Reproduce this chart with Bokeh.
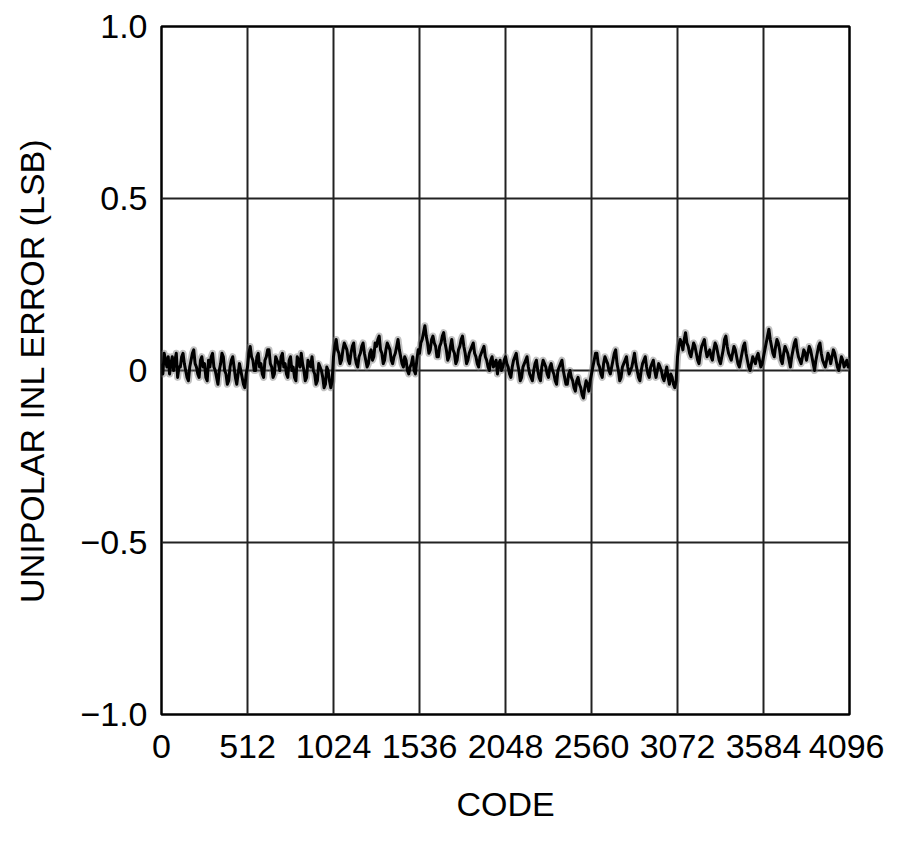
from bokeh.plotting import figure
from bokeh.models import Range1d, FixedTicker
from bokeh.embed import file_html
from bokeh.resources import INLINE

# ---- data ----
# readings every 16 codes (0 ... 4096)
seg_0_512 = [0.02, 0.05, 0.01, -0.01, 0.04, 0.03, -0.02, 0.01, 0.05, 0.00, -0.03, 0.03, 0.06, 0.01, -0.02, 0.04,
             0.02, -0.03, 0.01, 0.05, 0.00, -0.04, 0.02, 0.04, -0.01, -0.03, 0.03, 0.01, -0.04, 0.02, -0.02, -0.05]
seg_512_1024 = [0.01, 0.07, 0.03, 0.00, 0.05, 0.02, -0.02, 0.04, 0.06, 0.01, -0.01, 0.03, 0.00, 0.05, 0.02, -0.02,
                0.04, 0.01, -0.03, 0.03, 0.05, 0.00, -0.02, 0.02, 0.04, -0.01, -0.03, 0.01, -0.02, -0.04, 0.00, -0.05]
seg_1024_1536 = [0.04, 0.09, 0.05, 0.03, 0.08, 0.06, 0.02, 0.07, 0.04, 0.01, 0.05, 0.08, 0.03, 0.02, 0.06, 0.04,
                 0.07, 0.10, 0.05, 0.03, 0.08, 0.06, 0.02, 0.05, 0.09, 0.04, 0.01, 0.03, -0.01, 0.02, 0.00, 0.03]
seg_1536_2048 = [0.05, 0.09, 0.13, 0.08, 0.06, 0.10, 0.07, 0.04, 0.08, 0.11, 0.06, 0.04, 0.09, 0.05, 0.03, 0.07,
                 0.10, 0.05, 0.03, 0.06, 0.08, 0.04, 0.01, 0.05, 0.07, 0.03, 0.00, 0.04, 0.02, -0.01, 0.03, 0.01]
seg_2048_2560 = [0.04, 0.01, -0.02, 0.03, 0.05, 0.00, -0.02, 0.02, 0.04, -0.01, -0.03, 0.02, 0.00, -0.03, 0.03, 0.01,
                 -0.02, 0.02, -0.01, -0.04, 0.01, 0.03, -0.02, -0.04, 0.00, -0.03, -0.06, -0.02, -0.05, -0.08, -0.03, -0.06]
seg_2560_3072 = [-0.01, 0.03, 0.05, 0.01, -0.02, 0.04, 0.02, -0.01, 0.03, 0.06, 0.00, -0.02, 0.02, 0.04, -0.01, 0.01,
                 0.05, 0.00, -0.03, 0.02, 0.04, -0.01, 0.01, 0.03, -0.02, 0.02, 0.00, -0.03, 0.01, -0.04, -0.02, -0.05]
seg_3072_3584 = [0.04, 0.09, 0.06, 0.11, 0.07, 0.04, 0.08, 0.05, 0.02, 0.07, 0.09, 0.04, 0.06, 0.03, 0.08, 0.05,
                 0.02, 0.06, 0.10, 0.05, 0.03, 0.07, 0.04, 0.01, 0.05, 0.08, 0.03, 0.00, 0.04, 0.02, 0.05, 0.01]
seg_3584_4096 = [0.04, 0.08, 0.12, 0.07, 0.04, 0.09, 0.06, 0.02, 0.07, 0.05, 0.01, 0.06, 0.09, 0.04, 0.02, 0.06,
                 0.03, 0.07, 0.04, 0.00, 0.05, 0.08, 0.03, 0.01, 0.05, 0.02, 0.06, 0.03, 0.00, 0.04, 0.01, 0.03, 0.02]

# readings at the codes in between (8, 24, ... 4088)
mid_0_512 = [-0.01, 0.03, 0.04, 0.02, 0.00, 0.05, 0.01, 0.04, 0.02, -0.02, 0.01, 0.05, 0.02, -0.01, 0.03, 0.01,
             -0.02, 0.03, 0.04, 0.01, -0.02, 0.00, 0.05, 0.00, -0.04, 0.01, 0.04, -0.02, -0.01, 0.00, -0.04, -0.01]
mid_512_1024 = [0.05, 0.04, 0.00, 0.04, 0.01, -0.01, 0.03, 0.06, 0.02, -0.02, 0.04, 0.02, 0.04, 0.01, -0.01, 0.03,
                0.00, -0.02, 0.04, 0.01, 0.02, -0.03, 0.03, 0.01, 0.00, -0.04, 0.02, 0.00, -0.05, 0.01, -0.03, -0.03]
mid_1024_1536 = [0.07, 0.06, 0.02, 0.06, 0.07, 0.03, 0.05, 0.08, 0.02, 0.04, 0.07, 0.05, 0.01, 0.05, 0.03, 0.08,
                 0.09, 0.06, 0.02, 0.06, 0.07, 0.03, 0.04, 0.07, 0.06, 0.02, 0.04, 0.00, 0.01, 0.04, -0.01, 0.06]
mid_1536_2048 = [0.08, 0.11, 0.10, 0.05, 0.09, 0.08, 0.04, 0.07, 0.10, 0.08, 0.03, 0.07, 0.06, 0.02, 0.06, 0.09,
                 0.07, 0.02, 0.05, 0.07, 0.05, 0.02, 0.04, 0.06, 0.04, 0.01, 0.03, 0.01, 0.03, 0.02, 0.00, 0.03]
mid_2048_2560 = [0.02, -0.01, 0.01, 0.04, 0.02, -0.03, 0.01, 0.03, 0.01, -0.02, 0.00, 0.03, -0.02, 0.01, 0.02, -0.01,
                 0.01, 0.00, -0.03, 0.00, 0.02, 0.00, -0.04, -0.01, -0.02, -0.05, -0.03, -0.04, -0.07, -0.05, -0.04, -0.03]
mid_2560_3072 = [0.01, 0.05, 0.02, -0.01, 0.02, 0.03, 0.00, 0.01, 0.05, 0.02, -0.03, 0.01, 0.03, 0.01, 0.00, 0.03,
                 0.02, -0.02, 0.00, 0.03, 0.01, -0.02, 0.02, 0.00, 0.00, 0.01, -0.02, -0.01, -0.02, -0.01, -0.04, -0.03]
mid_3072_3584 = [0.07, 0.08, 0.09, 0.08, 0.05, 0.06, 0.07, 0.03, 0.05, 0.08, 0.06, 0.05, 0.04, 0.06, 0.07, 0.03,
                 0.04, 0.09, 0.07, 0.04, 0.05, 0.06, 0.02, 0.03, 0.07, 0.05, 0.01, 0.02, 0.03, 0.04, 0.03, 0.02]
mid_3584_4096 = [0.06, 0.10, 0.09, 0.05, 0.07, 0.08, 0.03, 0.05, 0.06, 0.03, 0.04, 0.08, 0.06, 0.03, 0.04, 0.05,
                 0.05, 0.06, 0.02, 0.03, 0.07, 0.05, 0.02, 0.03, 0.04, 0.04, 0.05, 0.01, 0.02, 0.03, 0.02, 0.01]

main_readings = (seg_0_512 + seg_512_1024 + seg_1024_1536 + seg_1536_2048 +
                 seg_2048_2560 + seg_2560_3072 + seg_3072_3584 + seg_3584_4096)
mid_readings = (mid_0_512 + mid_512_1024 + mid_1024_1536 + mid_1536_2048 +
                mid_2048_2560 + mid_2560_3072 + mid_3072_3584 + mid_3584_4096)

codes = list(range(0, 4097, 8))
inl_error = []
for a, b in zip(main_readings[:-1], mid_readings):
    inl_error += [a, b]
inl_error.append(main_readings[-1])

x_ticks = [0, 512, 1024, 1536, 2048, 2560, 3072, 3584, 4096]
y_ticks = [-1.0, -0.5, 0.0, 0.5, 1.0]
y_tick_labels = ["\u22121.0", "\u22120.5", "0", "0.5", "1.0"]

FONT = "Liberation Sans"
FS = "34px"

p = figure(frame_width=688, frame_height=688,
           min_border_left=161, min_border_right=35, min_border_top=26, min_border_bottom=120,
           x_range=Range1d(0, 4096), y_range=Range1d(-1, 1),
           output_backend="svg", toolbar_location=None)

# soft grey fringe of the scanned trace, then the dark core
p.line(codes, inl_error, line_color="#777777", line_width=7, line_alpha=0.45, line_join="round")
p.line(codes, inl_error, line_color="black", line_width=3, line_join="round")

p.outline_line_color = "black"
p.outline_line_width = 2.5
p.outline_line_alpha = 1

p.xaxis.ticker = FixedTicker(ticks=x_ticks)
p.yaxis.ticker = FixedTicker(ticks=y_ticks)
p.yaxis.major_label_overrides = {t: l for t, l in zip(y_ticks, y_tick_labels)}

p.xgrid.grid_line_color = "#222222"
p.ygrid.grid_line_color = "#222222"
p.xgrid.grid_line_width = 2
p.ygrid.grid_line_width = 2
p.xgrid.grid_line_alpha = 1
p.ygrid.grid_line_alpha = 1

for ax in (p.xaxis, p.yaxis):
    ax.axis_line_color = None
    ax.major_tick_line_color = None
    ax.minor_tick_line_color = None
    ax.major_label_text_font = FONT
    ax.major_label_text_font_size = FS
    ax.major_label_text_color = "black"
    ax.axis_label_text_font = FONT
    ax.axis_label_text_font_size = FS
    ax.axis_label_text_font_style = "normal"
    ax.axis_label_text_color = "black"

p.xaxis.axis_label = "CODE"
p.yaxis.axis_label = "UNIPOLAR INL ERROR (LSB)"
p.xaxis.major_label_standoff = 14
p.yaxis.major_label_standoff = 8
p.xaxis.axis_label_standoff = 24
p.yaxis.axis_label_standoff = 26

open("out.html", "w").write(file_html(p, INLINE))
